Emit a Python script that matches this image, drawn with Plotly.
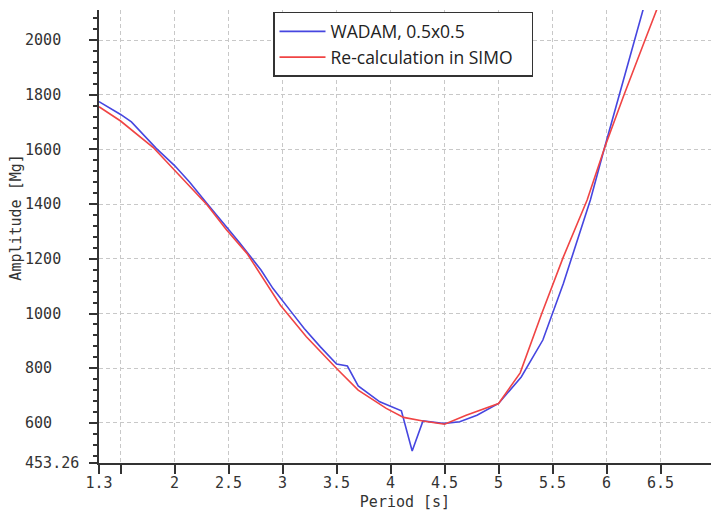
import plotly.graph_objects as go

# ---- data ----
wadam_period = [1.3, 1.5, 1.6, 1.83, 2.0, 2.14, 2.3, 2.5, 2.6, 2.8, 2.91, 3.08, 3.2, 3.35, 3.5,
                3.6, 3.7, 3.9, 4.1, 4.2, 4.3, 4.5, 4.64, 4.8, 5.0, 5.21, 5.41, 5.6, 5.69, 5.85,
                5.985, 6.12, 6.26, 6.5]
wadam_amp = [1775, 1728, 1701, 1604, 1541, 1480, 1402, 1307, 1260, 1159, 1092, 1006, 945, 878, 815,
             808, 735, 677, 644, 497, 607, 598, 604, 628, 671, 768, 903, 1110, 1220, 1415,
             1612, 1802, 2000, 2340]

simo_period = [1.3, 1.5, 1.8, 2.0, 2.3, 2.48, 2.67, 2.98, 3.22, 3.5, 3.7, 3.96, 4.12, 4.3, 4.5,
               4.7, 5.0, 5.2, 5.4, 5.6, 5.82, 5.985, 6.155, 6.356, 6.6]
simo_amp = [1756, 1704, 1608, 1525, 1398, 1306, 1220, 1030, 915, 799, 720, 653, 620, 607, 595,
            628, 671, 783, 1000, 1207, 1415, 1610, 1793, 2000, 2250]

x_tickvals = [1.3, 1.5, 2, 2.5, 3, 3.5, 4, 4.5, 5, 5.5, 6, 6.5]
x_ticktext = ["1.3", "", "2", "2.5", "3", "3.5", "4", "4.5", "5", "5.5", "6", "6.5"]
y_tickvals = [453.26, 600, 800, 1000, 1200, 1400, 1600, 1800, 2000]
y_ticktext = ["453.26", "600", "800", "1000", "1200", "1400", "1600", "1800", "2000"]
y_minor = [v for v in range(480, 2100, 40) if v % 200 != 0]

x_range = [1.3, 6.967]
y_range = [453.26, 2110]

MONO = "DejaVu Sans Mono"
# pad labels (monospace) so they appear left-aligned
width = max(len(t) for t in y_ticktext)
y_ticktext_padded = [t + "\u00a0" * (width - len(t)) for t in y_ticktext]

fig = go.Figure()
fig.add_trace(go.Scatter(x=wadam_period, y=wadam_amp, mode="lines",
                         name="WADAM, 0.5x0.5\u00a0\u00a0\u00a0",
                         line=dict(color="#4646e0", width=1.6)))
fig.add_trace(go.Scatter(x=simo_period, y=simo_amp, mode="lines",
                         name="Re-calculation in SIMO\u00a0\u00a0\u00a0",
                         line=dict(color="#f04444", width=1.6)))

fig.update_layout(
    width=711, height=511,
    margin=dict(l=99, r=0, t=10, b=48),
    paper_bgcolor="white", plot_bgcolor="white",
    font=dict(family=MONO, size=15, color="#333333"),
    legend=dict(x=(273 - 99) / 612, y=0.9956, xanchor="left", yanchor="top",
                bgcolor="white", bordercolor="#333333", borderwidth=1.5,
                font=dict(family="Open Sans", size=17.5, color="#222222"),
                itemwidth=46, tracegroupgap=0),
    showlegend=True,
)
fig.update_xaxes(
    range=x_range, tickmode="array", tickvals=x_tickvals, ticktext=x_ticktext,
    showline=True, linecolor="#333333", linewidth=1.5,
    ticks="outside", ticklen=9, tickwidth=1.5, tickcolor="#333333",
    showgrid=True, gridcolor="#c8c8c8", griddash="4px,3px", gridwidth=1,
    zeroline=False, ticklabelstandoff=-4,
    title=dict(text="Period [s]", font=dict(family=MONO, size=15, color="#333333"), standoff=6),
)
fig.update_yaxes(
    range=y_range, tickmode="array", tickvals=y_tickvals, ticktext=y_ticktext_padded,
    showline=True, linecolor="#333333", linewidth=1.5,
    ticks="outside", ticklen=8, tickwidth=1.5, tickcolor="#333333",
    showgrid=True, gridcolor="#c8c8c8", griddash="4px,3px", gridwidth=1,
    zeroline=False, ticklabelstandoff=7,
    minor=dict(tickmode="array", tickvals=y_minor, ticks="outside", ticklen=4,
               tickwidth=1.5, tickcolor="#333333", showgrid=False),
)
fig.add_annotation(text="Amplitude [Mg]", xref="paper", yref="paper",
                   x=(16 - 99) / 612, y=(462.7 - 217.5) / 452.7, textangle=-90,
                   showarrow=False, xanchor="center", yanchor="middle",
                   font=dict(family=MONO, size=15, color="#333333"))

fig.write_html("out.html")
